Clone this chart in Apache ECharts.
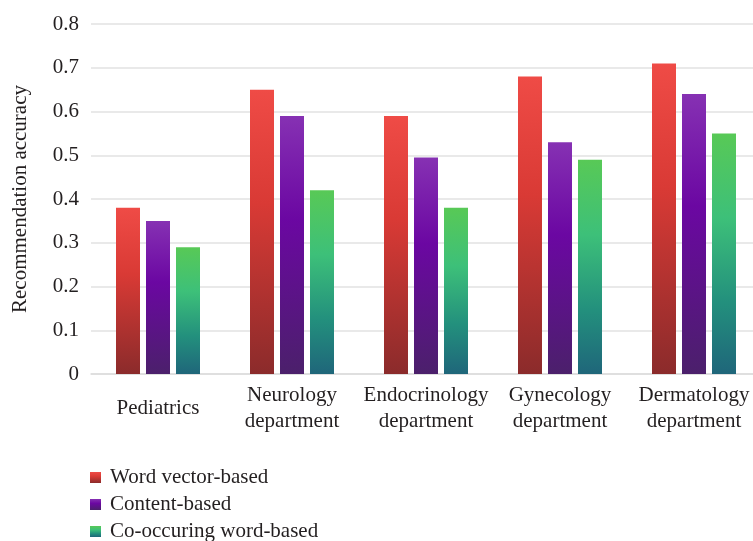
<!DOCTYPE html>
<html>
<head>
<meta charset="utf-8">
<script src="https://cdn.jsdelivr.net/npm/echarts@6/dist/echarts.min.js"></script>
<style>
  html, body { margin: 0; padding: 0; background: #fff; }
  #chart { width: 753px; height: 541px; }
</style>
</head>
<body>
<div id="chart"></div>
<script>
// Departments along the x axis
const categories = [
  'Pediatrics',
  'Neurology\ndepartment',
  'Endocrinology\ndepartment',
  'Gynecology\ndepartment',
  'Dermatology\ndepartment'
];

// Recommendation accuracy per method
const wordVectorBased = [0.38, 0.65, 0.59, 0.68, 0.71];
const contentBased = [0.35, 0.59, 0.495, 0.53, 0.64];
const coOccurringWordBased = [0.29, 0.42, 0.38, 0.49, 0.55];

const seriesNames = ['Word vector-based', 'Content-based', 'Co-occuring word-based'];
const yTicks = [0, 0.1, 0.2, 0.3, 0.4, 0.5, 0.6, 0.7, 0.8];

const FONT = '"Liberation Serif", "DejaVu Serif", serif';

function grad(stops) {
  return new echarts.graphic.LinearGradient(0, 0, 0, 1,
    stops.map(s => ({ offset: s[0], color: s[1] })));
}

const palettes = [
  [[0, '#ef4b46'], [0.4, '#d93a35'], [1, '#8b2b2b']],
  [[0, '#8631b3'], [0.4, '#6b07a2'], [1, '#4b206b']],
  [[0, '#58c956'], [0.35, '#3dc079'], [0.7, '#23907d'], [1, '#1f667a']]
];

const values = [wordVectorBased, contentBased, coOccurringWordBased];

const chart = echarts.init(document.getElementById('chart'), null, { renderer: 'canvas' });

chart.setOption({
  animation: false,
  backgroundColor: '#ffffff',
  // the plot runs a little past the right edge of the canvas
  grid: { left: 91, width: 670, top: 24, bottom: 167, containLabel: false, outerBoundsMode: 'none' },
  legend: {
    orient: 'vertical',
    left: 90,
    top: 467,
    height: 200,
    padding: 0,
    itemWidth: 11,
    itemHeight: 11,
    itemGap: 6,
    icon: 'rect',
    textStyle: { fontFamily: FONT, fontSize: 21, color: '#231f20', lineHeight: 21, padding: [0, 0, 0, 4] },
    data: seriesNames
  },
  xAxis: {
    type: 'category',
    data: categories,
    axisLine: { show: true, lineStyle: { color: '#dcdcdc', width: 1.5 } },
    axisTick: { show: false },
    axisLabel: {
      interval: 0,
      margin: 34,
      verticalAlign: 'middle',
      fontFamily: FONT,
      fontSize: 21,
      lineHeight: 26,
      color: '#231f20'
    }
  },
  yAxis: {
    type: 'value',
    min: yTicks[0],
    max: yTicks[yTicks.length - 1],
    interval: 0.1,
    name: 'Recommendation accuracy',
    nameLocation: 'middle',
    nameGap: 60,
    nameTextStyle: { fontFamily: FONT, fontSize: 21, color: '#231f20' },
    axisLine: { show: false },
    axisTick: { show: false },
    splitLine: { lineStyle: { color: '#e2e2e2', width: 1.5 } },
    axisLabel: {
      margin: 12,
      fontFamily: FONT,
      fontSize: 21,
      color: '#231f20',
      formatter: v => (v === 0 ? '0' : v.toFixed(1))
    }
  },
  series: seriesNames.map((name, i) => ({
    name,
    type: 'bar',
    data: values[i],
    barWidth: 24,
    barGap: '25%',
    barCategoryGap: '37%',
    itemStyle: { color: grad(palettes[i]) }
  }))
});
</script>
</body>
</html>
